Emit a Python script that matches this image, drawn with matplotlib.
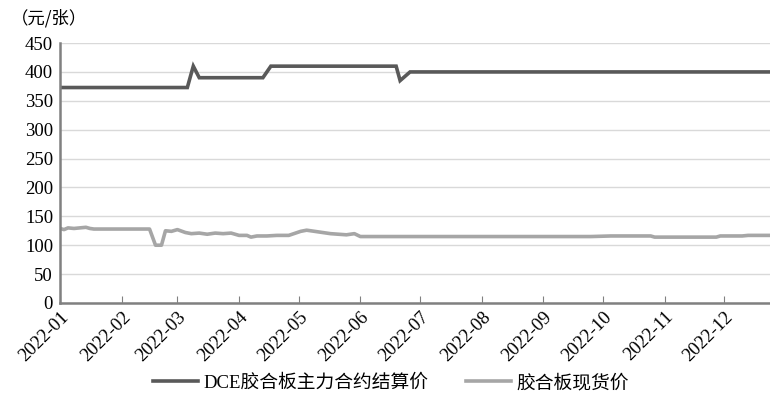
import matplotlib.pyplot as plt
import matplotlib.dates as mdates
import numpy as np
import pandas as pd

plt.rcParams['font.family'] = ['Liberation Serif', 'Noto Sans CJK SC']

# DCE胶合板主力合约结算价 (元/张), 折点
dce_dates = ['2022-01-01', '2022-03-06', '2022-03-09', '2022-03-12', '2022-04-13',
             '2022-04-17', '2022-06-19', '2022-06-21', '2022-06-26', '2022-12-24']
dce_vals = [373, 373, 410, 390, 390, 410, 410, 385, 400, 400]

# 胶合板现货价 (元/张)
spot_dates = ['2022-01-01', '2022-01-03', '2022-01-05', '2022-01-08', '2022-01-11',
              '2022-01-14', '2022-01-16', '2022-01-18', '2022-02-15', '2022-02-18',
              '2022-02-21', '2022-02-23', '2022-02-26', '2022-03-01', '2022-03-05',
              '2022-03-08', '2022-03-12', '2022-03-16', '2022-03-20', '2022-03-24',
              '2022-03-28', '2022-04-01', '2022-04-05', '2022-04-07', '2022-04-10',
              '2022-04-15', '2022-04-20', '2022-04-26', '2022-05-02', '2022-05-05',
              '2022-05-09', '2022-05-13', '2022-05-17', '2022-05-21', '2022-05-25',
              '2022-05-29', '2022-06-01', '2022-09-25', '2022-10-05', '2022-10-25',
              '2022-10-27', '2022-11-27', '2022-11-29', '2022-12-10', '2022-12-13',
              '2022-12-24']
spot_vals = [129, 127, 130, 129, 130, 131, 129, 128, 128, 100,
             100, 125, 124, 127, 122, 120, 121, 119, 121, 120,
             121, 117, 117, 114, 116, 116, 117, 117, 124, 126,
             124, 122, 120, 119, 118, 120, 115, 115, 116, 116,
             114, 114, 116, 116, 117, 117]

fig = plt.figure(figsize=(7.7, 3.95), dpi=100)
ax = fig.add_axes([0.078, 0.233, 0.922, 0.658])

ax.plot(pd.to_datetime(dce_dates), dce_vals, color='#595959', lw=2.6,
        label='DCE胶合板主力合约结算价', solid_joinstyle='miter')
ax.plot(pd.to_datetime(spot_dates), spot_vals, color='#a6a6a6', lw=2.6,
        label='胶合板现货价')

ax.set_ylim(0, 450)
ax.set_yticks(np.arange(0, 451, 50))
ax.set_xlim(pd.Timestamp('2022-01-01'), pd.Timestamp('2022-12-24'))
ax.xaxis.set_major_locator(mdates.MonthLocator())
ax.xaxis.set_major_formatter(mdates.DateFormatter('%Y-%m'))
plt.setp(ax.get_xticklabels(), rotation=45, ha='right', rotation_mode='anchor')

ax.grid(axis='y', color='#d9d9d9', lw=1)
ax.set_axisbelow(True)
for s in ['top', 'right']:
    ax.spines[s].set_visible(False)
for s in ['left', 'bottom']:
    ax.spines[s].set_color('#808080')
    ax.spines[s].set_linewidth(1.8)
ax.tick_params(axis='x', direction='in', length=5, color='#808080', labelsize=13.5, pad=4)
ax.tick_params(axis='y', length=0, labelsize=13.5, pad=5)

fig.text(0.014, 0.955, '（元/张）', fontsize=12.5, va='center', ha='left',
         family=['Noto Sans CJK SC'])

fig.legend(loc='center', bbox_to_anchor=(0.508, 0.03), ncol=2, frameon=False,
           fontsize=13.5, handlelength=2.4, columnspacing=2.0, handletextpad=0.3)

fig.savefig('out.png', dpi=100)
